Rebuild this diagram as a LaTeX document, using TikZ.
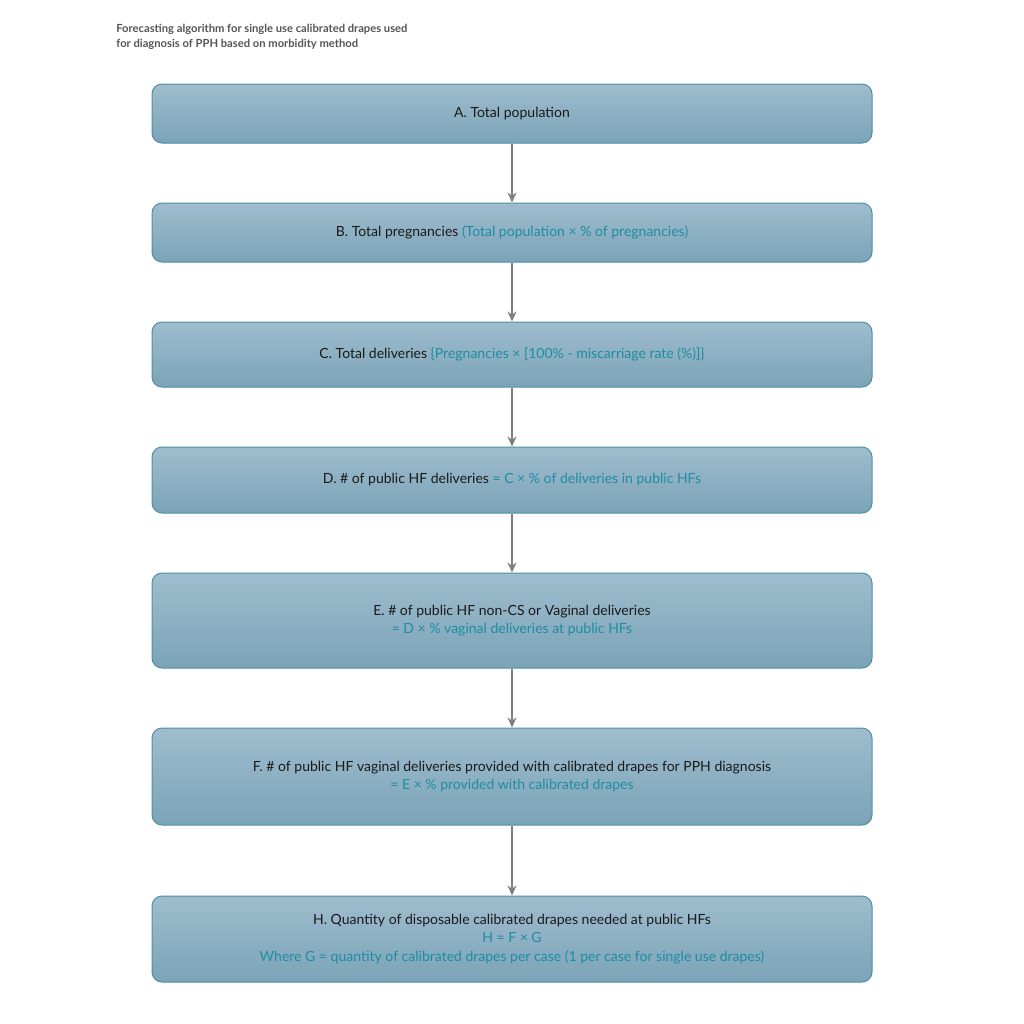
\documentclass[tikz,border=0pt]{standalone}
\usepackage{fontspec}
\setmainfont{Lato}
\usetikzlibrary{arrows.meta}
\definecolor{boxtop}{HTML}{9FBDCE}
\definecolor{boxbot}{HTML}{7BA3B7}
\definecolor{boxedge}{HTML}{4E8FA2}
\definecolor{teal}{HTML}{1F8CA3}
\definecolor{txt}{HTML}{1A1A1A}
\definecolor{arr}{HTML}{7F7F7F}
\definecolor{ttl}{HTML}{555555}
\tikzset{
  flowbox/.style={draw=boxedge, line width=0.5pt, rounded corners=5pt,
    top color=boxtop, bottom color=boxbot, minimum width=360pt,
    align=center, font=\fontsize{7}{9.2}\selectfont, text=txt, inner sep=0pt},
  flowarrow/.style={draw=arr, line width=1pt, -{Stealth[length=5pt,width=4.5pt]}},
}
\newcommand{\tl}[1]{\textcolor{teal}{#1}}
\begin{document}
\begin{tikzpicture}[x=0.5pt,y=-0.5pt]
\useasboundingbox (0,0) rectangle (1024,1024);
\node[anchor=north west, align=left, text=ttl, font=\fontsize{5.6}{7.6}\selectfont\bfseries, inner sep=0pt] (title) at (116,24)
  {Forecasting algorithm for single use calibrated drapes used\\for diagnosis of PPH based on morbidity method};
\node[flowbox, minimum height=29.5pt] (A) at (512,113.5) {A. Total population};
\node[flowbox, minimum height=29.5pt] (B) at (512,232.5) {B. Total pregnancies \tl{(Total population × \% of pregnancies)}};
\node[flowbox, minimum height=32.5pt] (C) at (512,354.5) {C. Total deliveries \tl{\{Pregnancies × [100\% - miscarriage rate (\%)]\}}};
\node[flowbox, minimum height=33pt] (D) at (512,480) {D. \# of public HF deliveries \tl{= C × \% of deliveries in public HFs}};
\node[flowbox, minimum height=47.5pt] (E) at (512,620.5) {E. \# of public HF non-CS or Vaginal deliveries\\\tl{= D × \% vaginal deliveries at public HFs}};
\node[flowbox, minimum height=48.5pt] (F) at (512,776.5) {F. \# of public HF vaginal deliveries provided with calibrated drapes for PPH diagnosis\\\tl{= E × \% provided with calibrated drapes}};
\node[flowbox, minimum height=43pt] (H) at (512,939) {H. Quantity of disposable calibrated drapes needed at public HFs\\\tl{H = F × G}\\\tl{Where G = quantity of calibrated drapes per case (1 per case for single use drapes)}};
\draw[flowarrow] (A) -- (B);
\draw[flowarrow] (B) -- (C);
\draw[flowarrow] (C) -- (D);
\draw[flowarrow] (D) -- (E);
\draw[flowarrow] (E) -- (F);
\draw[flowarrow] (F) -- (H);
\end{tikzpicture}
\end{document}
